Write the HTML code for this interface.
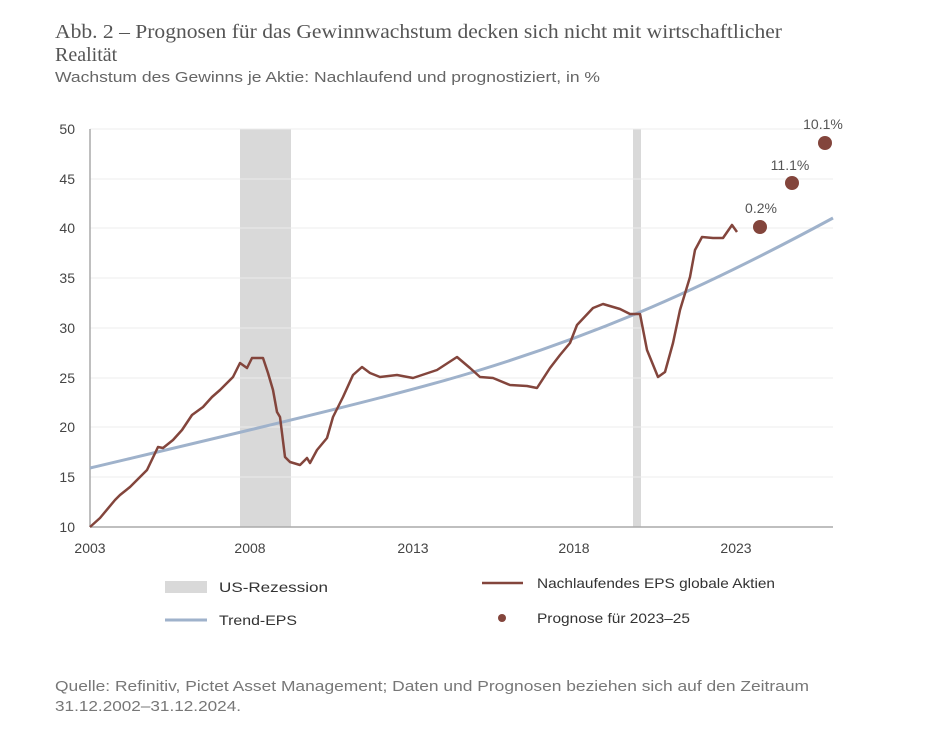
<!DOCTYPE html>
<html><head><meta charset="utf-8"><style>
body{margin:0;background:#fff;width:940px;height:732px;overflow:hidden}
svg{display:block}
</style></head><body>
<svg width="940" height="732" xmlns="http://www.w3.org/2000/svg">
<g font-family="Liberation Serif, serif" font-size="20" fill="#555">
<text x="55" y="38" textLength="727" lengthAdjust="spacingAndGlyphs">Abb. 2 – Prognosen für das Gewinnwachstum decken sich nicht mit wirtschaftlicher</text>
<text x="55" y="61">Realität</text>
</g>
<text x="55" y="82" font-family="Liberation Sans, sans-serif" font-size="15" fill="#666" textLength="545" lengthAdjust="spacingAndGlyphs">Wachstum des Gewinns je Aktie: Nachlaufend und prognostiziert, in %</text>
<rect x="240" y="129" width="51" height="398" fill="#d9d9d9"/>
<rect x="633" y="129" width="8" height="398" fill="#d9d9d9"/>
<g stroke="#ececec" stroke-width="1">
<line x1="90" y1="129" x2="833" y2="129"/><line x1="90" y1="179" x2="833" y2="179"/>
<line x1="90" y1="228" x2="833" y2="228"/><line x1="90" y1="278" x2="833" y2="278"/>
<line x1="90" y1="328" x2="833" y2="328"/><line x1="90" y1="378" x2="833" y2="378"/>
<line x1="90" y1="427" x2="833" y2="427"/><line x1="90" y1="477" x2="833" y2="477"/>
</g>
<line x1="90" y1="129" x2="90" y2="527" stroke="#aaa" stroke-width="1.5"/>
<line x1="90" y1="527" x2="833" y2="527" stroke="#aaa" stroke-width="1.5"/>
<g font-family="Liberation Sans, sans-serif" font-size="14" fill="#444" text-anchor="end">
<text x="75" y="134">50</text><text x="75" y="184">45</text><text x="75" y="233">40</text>
<text x="75" y="283">35</text><text x="75" y="333">30</text><text x="75" y="383">25</text>
<text x="75" y="432">20</text><text x="75" y="482">15</text><text x="75" y="532">10</text>
</g>
<g font-family="Liberation Sans, sans-serif" font-size="14" fill="#444" text-anchor="middle">
<text x="90" y="553">2003</text><text x="250" y="553">2008</text><text x="413" y="553">2013</text>
<text x="574" y="553">2018</text><text x="736" y="553">2023</text>
</g>
<path d="M90,468 C250,430 400,395 480,370 C600,333 700,290 833,218" fill="none" stroke="#9fb2cb" stroke-width="3"/>
<polyline fill="none" stroke="#83453c" stroke-width="2.5" stroke-linejoin="round" points="90,527 100,518 115,500 120,495 130,487 137,480 147,470 158,447 163,448 173,440 182,430 192,415 203,407 212,397 220,390 233,377 240,363 247,368 252,358 263,358 268,373 273,390 277,412 280,417 285,457 290,462 300,465 307,458 310,463 317,450 327,438 333,417 343,397 353,375 362,367 370,373 380,377 397,375 413,378 437,370 457,357 470,368 480,377 493,378 510,385 527,386 537,388 550,368 560,355 570,343 577,325 593,308 603,304 620,309 630,314 640,314 647,350 658,377 665,372 673,343 680,310 690,277 695,250 702,237 713,238 723,238 732,225 737,232"/>
<g fill="#83453c"><circle cx="760" cy="227" r="7"/><circle cx="792" cy="183" r="7"/><circle cx="825" cy="143" r="7"/></g>
<g font-family="Liberation Sans, sans-serif" font-size="14" fill="#555" text-anchor="middle">
<text x="761" y="213">0.2%</text><text x="790" y="170">11.1%</text><text x="823" y="129">10.1%</text>
</g>
<rect x="165" y="581" width="42" height="12" fill="#d9d9d9"/>
<line x1="165" y1="620" x2="207" y2="620" stroke="#9fb2cb" stroke-width="3"/>
<line x1="482" y1="583" x2="523" y2="583" stroke="#83453c" stroke-width="2.5"/>
<circle cx="502" cy="618" r="4" fill="#83453c"/>
<g font-family="Liberation Sans, sans-serif" font-size="14" fill="#333">
<text x="219" y="592" textLength="109" lengthAdjust="spacingAndGlyphs">US-Rezession</text>
<text x="219" y="625" textLength="78" lengthAdjust="spacingAndGlyphs">Trend-EPS</text>
<text x="537" y="588" textLength="238" lengthAdjust="spacingAndGlyphs">Nachlaufendes EPS globale Aktien</text>
<text x="537" y="623" textLength="153" lengthAdjust="spacingAndGlyphs">Prognose für 2023–25</text>
</g>
<g font-family="Liberation Sans, sans-serif" font-size="15" fill="#777">
<text x="55" y="691" textLength="754" lengthAdjust="spacingAndGlyphs">Quelle: Refinitiv, Pictet Asset Management; Daten und Prognosen beziehen sich auf den Zeitraum</text>
<text x="55" y="711" textLength="186" lengthAdjust="spacingAndGlyphs">31.12.2002–31.12.2024.</text>
</g>
</svg>
</body></html>
